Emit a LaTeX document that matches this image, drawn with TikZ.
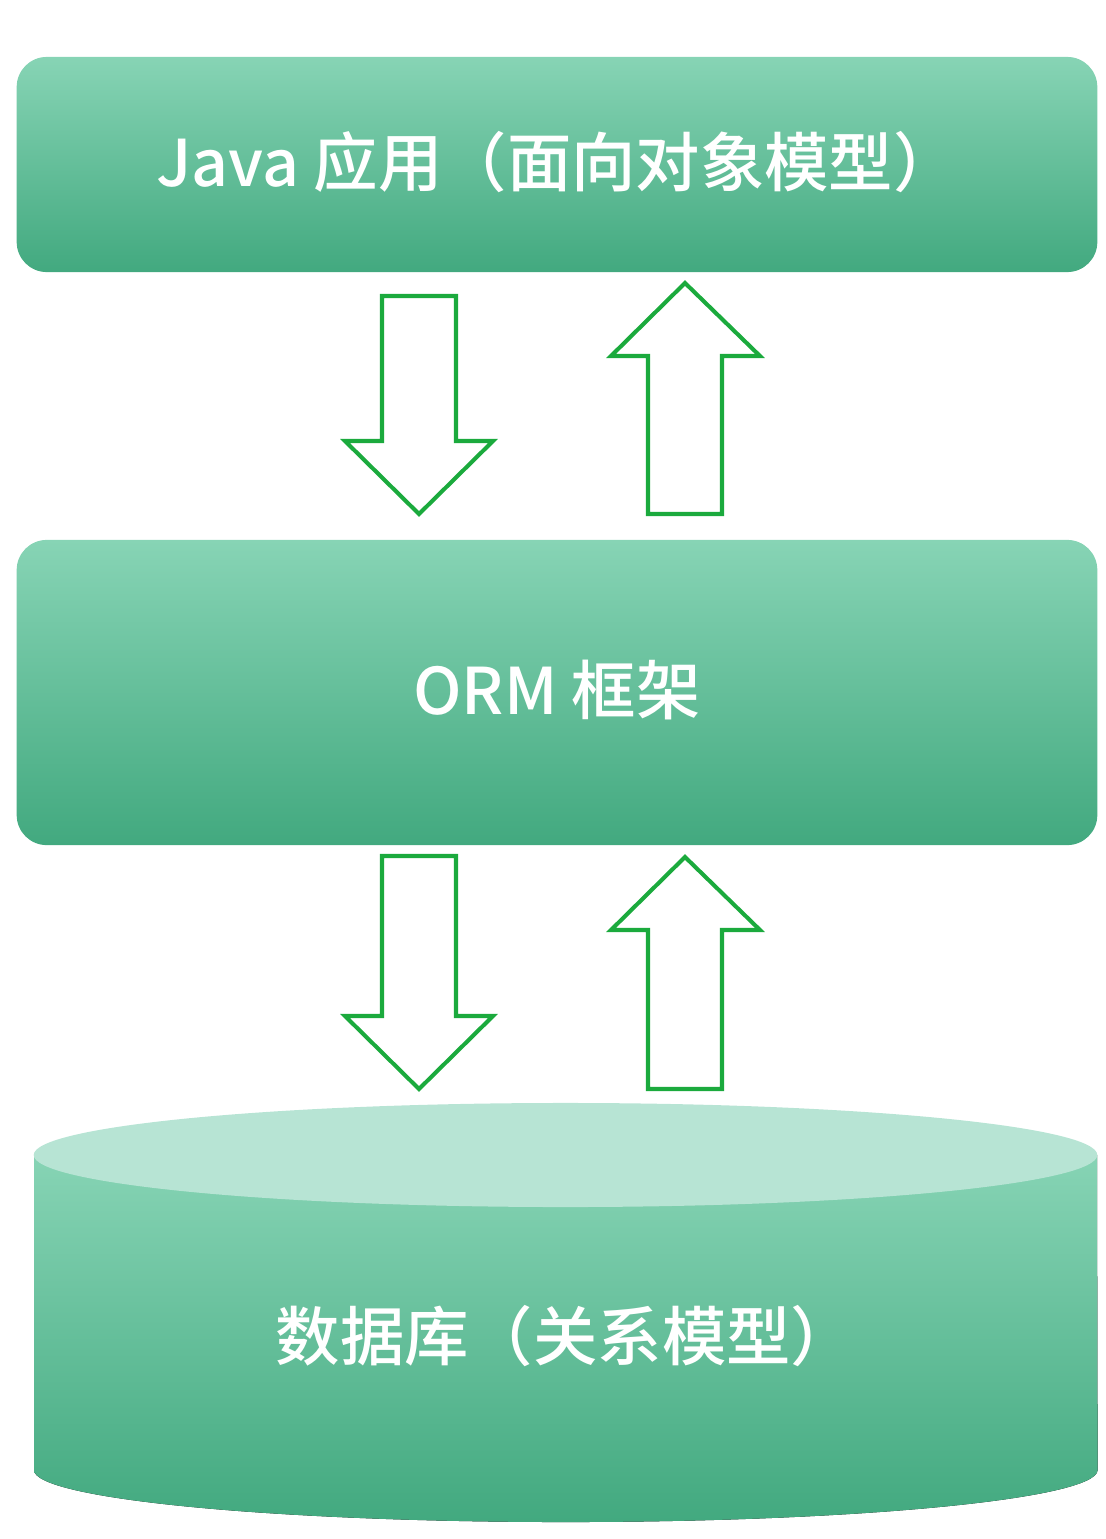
\documentclass[tikz,border=0pt]{standalone}
\usepackage{fontspec}
\setmainfont{Noto Sans CJK SC}[UprightFont=* Medium]
\usetikzlibrary{positioning}
\definecolor{layertop}{HTML}{87D4B5}
\definecolor{layerbot}{HTML}{42A97F}
\definecolor{dbcap}{HTML}{B7E4D4}
\definecolor{arrowgreen}{HTML}{1BAA3D}
\tikzset{
  layer/.style={rectangle, rounded corners=0.3cm, top color=layertop,
    bottom color=layerbot, minimum width=10.8cm, inner sep=0pt},
  caption/.style={text=white, font=\fontsize{18.3pt}{21pt}\selectfont},
  blockarrow/.style={draw=arrowgreen, line width=1.15pt, fill=white, line join=miter}
}

\begin{document}
\begin{tikzpicture}[x=0.01cm, y=-0.01cm]
\useasboundingbox (0,0) rectangle (1106,1539);
%
\node[layer, minimum height=2.15cm] (java) at (557,164.5) {};
\node[caption] (javatext) at (557,162) {Java 应用（面向对象模型）};
%
\node[layer, minimum height=3.05cm] (orm) at (557,692.5) {};
\node[caption] (ormtext) at (557,690) {ORM 框架};
%
% database cylinder
\fill[top color=layertop, bottom color=layerbot] (34,1155) -- (34,1470)
  arc[start angle=180, end angle=360, x radius=5.315cm, y radius=0.52cm]
  -- (1097,1155) -- cycle;
\fill[dbcap] (565.5,1155) ellipse[x radius=5.315cm, y radius=0.52cm];
\node[caption] (dbtext) at (565.5,1336) {数据库（关系模型）};
%
% down arrows
\foreach \Top/\Tip in {296/514, 856/1089}
\draw[blockarrow] (382,\Top) -- (456,\Top) -- (456,\Tip-73) -- (493,\Tip-73)
  -- (419,\Tip) -- (345,\Tip-73) -- (382,\Tip-73) -- cycle;
%
% up arrows
\foreach \Tip/\Bot in {283/514, 857/1089}
\draw[blockarrow] (648,\Bot) -- (722,\Bot) -- (722,\Tip+73) -- (760,\Tip+73)
  -- (685,\Tip) -- (611,\Tip+73) -- (648,\Tip+73) -- cycle;
\end{tikzpicture}
\end{document}
